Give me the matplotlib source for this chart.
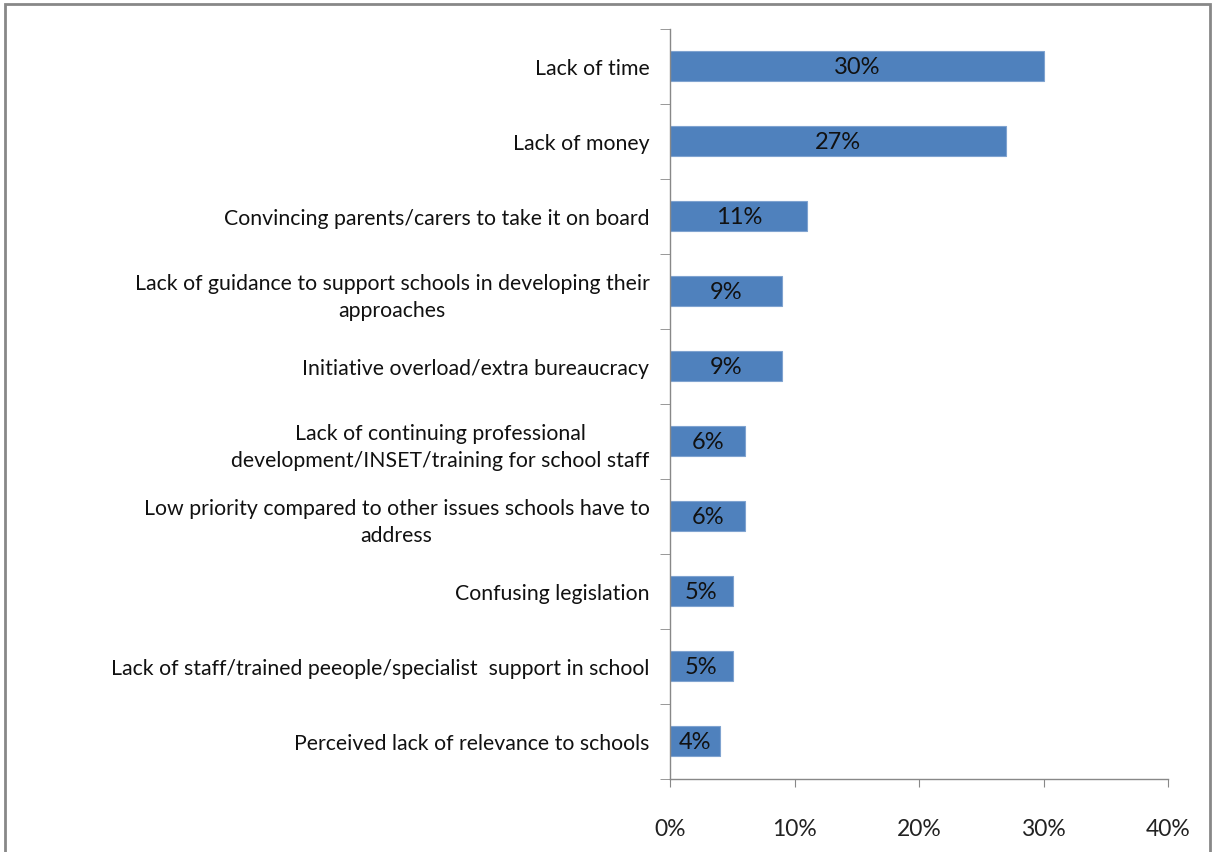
#!/usr/bin/env python3

import matplotlib
matplotlib.use("Agg")
import matplotlib.pyplot as plt
from matplotlib.patches import Rectangle
from matplotlib.ticker import FixedLocator, NullFormatter, PercentFormatter

categories = [
    "Lack of time",
    "Lack of money",
    "Convincing parents/carers to take it on board",
    "Lack of guidance to support schools in developing their\napproaches",
    "Initiative overload/extra bureaucracy",
    "Lack of continuing professional\ndevelopment/INSET/training for school staff",
    "Low priority compared to other issues schools have to\naddress",
    "Confusing legislation",
    "Lack of staff/trained peeople/specialist  support in school",
    "Perceived lack of relevance to schools",
]
values = [30, 27, 11, 9, 9, 6, 6, 5, 5, 4]
x_ticks = [0, 10, 20, 30, 40]

plt.rcParams["font.family"] = ["Lato", "DejaVu Sans"]

fig = plt.figure(figsize=(12.12, 8.53), dpi=100)
ax = fig.add_axes([0.553, 0.086, 0.411, 0.879])

n = len(categories)
positions = list(range(n))
ax.barh(positions, values, height=0.4, color="#4F81BD", edgecolor="#7FA3D0", linewidth=0.8)

for pos, val in zip(positions, values):
    ax.text(val / 2, pos, f"{val}%", ha="center", va="center", fontsize=17, color="#111111")

ax.set_xlim(0, 40)
ax.set_ylim(n - 0.5, -0.5)
ax.set_xticks(x_ticks)
ax.xaxis.set_major_formatter(PercentFormatter(decimals=0))
ax.tick_params(axis="x", labelsize=16.5, length=6, color="#888888", pad=22, labelcolor="#222222")

# category labels between the boundary ticks
ax.set_yticks(positions)
ax.set_yticklabels(categories, fontsize=15.3, color="#111111", multialignment="center",
                   linespacing=1.42)
ax.tick_params(axis="y", which="major", length=0, pad=15)
ax.yaxis.set_minor_locator(FixedLocator([p - 0.5 for p in positions] + [n - 0.5]))
ax.yaxis.set_minor_formatter(NullFormatter())
ax.tick_params(axis="y", which="minor", length=7, color="#888888")

for side in ["top", "right"]:
    ax.spines[side].set_visible(False)
for side in ["left", "bottom"]:
    ax.spines[side].set_color("#888888")
    ax.spines[side].set_linewidth(1.0)

# outer chart frame
fig.patches.append(Rectangle((5 / 1212, -0.01), 1205 / 1212, 1 - 5 / 853 + 0.01,
                             transform=fig.transFigure, fill=False,
                             edgecolor="#888888", linewidth=2))

fig.savefig("out.png", dpi=100)
